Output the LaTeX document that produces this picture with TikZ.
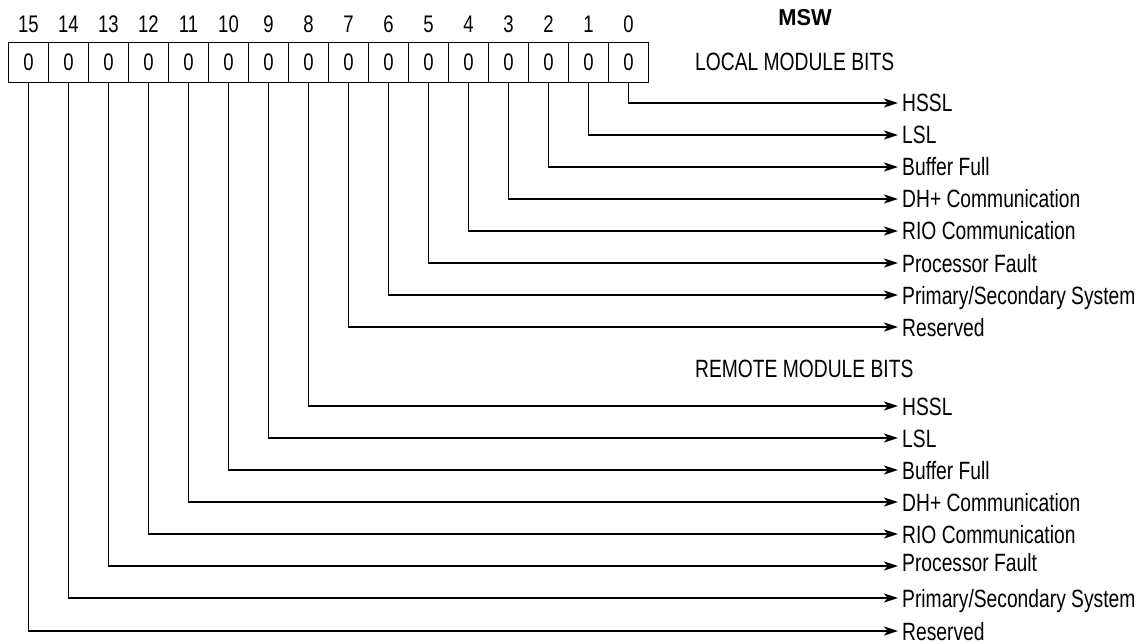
\documentclass[tikz,border=0pt]{standalone}
\usepackage{fontspec}
\setmainfont{Liberation Sans}[FakeStretch=0.77]
\newfontfamily\mswfont{Liberation Sans}[FakeStretch=0.95]
\usetikzlibrary{arrows.meta}
\begin{document}
\begin{tikzpicture}[x=1pt,y=-1pt,
  txt/.style={font=\fontsize{25}{28}\selectfont},
  dig/.style={font=\fontsize{24}{27}\selectfont},
  bitbox/.style={dig, draw, line width=1.8pt, minimum width=40pt, minimum height=40pt, inner sep=0pt},
  bitnum/.style={dig, inner sep=0pt},
  lab/.style={txt, anchor=west, inner xsep=4pt, inner ysep=0pt, text height=18pt, text depth=0pt},
  head/.style={txt, anchor=west, inner sep=0pt, text height=18pt, text depth=0pt},
  conn/.style={line width=1.8pt, -{Stealth[length=14pt,width=9pt,inset=3.5pt]}}
]
\useasboundingbox (0,0) rectangle (1147,644);
\foreach \b in {0,...,15} {
  \node[bitbox] (b\b) at ({628.5-40*\b},62.5) {0};
  \node[bitnum] (n\b) at ({628.5-40*\b},24) {\b};
}
\node[font=\mswfont\fontsize{23}{26}\selectfont\bfseries, inner sep=0pt] (msw) at (805,18) {MSW};
\node[head] (local) at (695,62) {LOCAL MODULE BITS};
\node[head] (remote) at (695,368) {REMOTE MODULE BITS};
% local module bits
\node[lab] (l0) at (898,103) {HSSL};
\node[lab] (l1) at (898,135) {LSL};
\node[lab] (l2) at (898,167) {Buffer Full};
\node[lab] (l3) at (898,199) {DH+ Communication};
\node[lab] (l4) at (898,231) {RIO Communication};
\node[lab] (l5) at (898,263) {Processor Fault};
\node[lab] (l6) at (898,295) {Primary/Secondary System};
\node[lab] (l7) at (898,327) {Reserved};
% remote module bits
\node[lab] (l8) at (898,406) {HSSL};
\node[lab] (l9) at (898,438) {LSL};
\node[lab] (l10) at (898,470) {Buffer Full};
\node[lab] (l11) at (898,502) {DH+ Communication};
\node[lab] (l12) at (898,534) {RIO Communication};
\node[lab] (l13) at (898,566) {\raisebox{4pt}{Processor Fault}};
\node[lab] (l14) at (898,598) {Primary/Secondary System};
\node[lab] (l15) at (898,631) {Reserved};
\foreach \b in {0,...,15} {
  \draw[conn] (b\b.south) |- (l\b.west);
}
\end{tikzpicture}
\end{document}
